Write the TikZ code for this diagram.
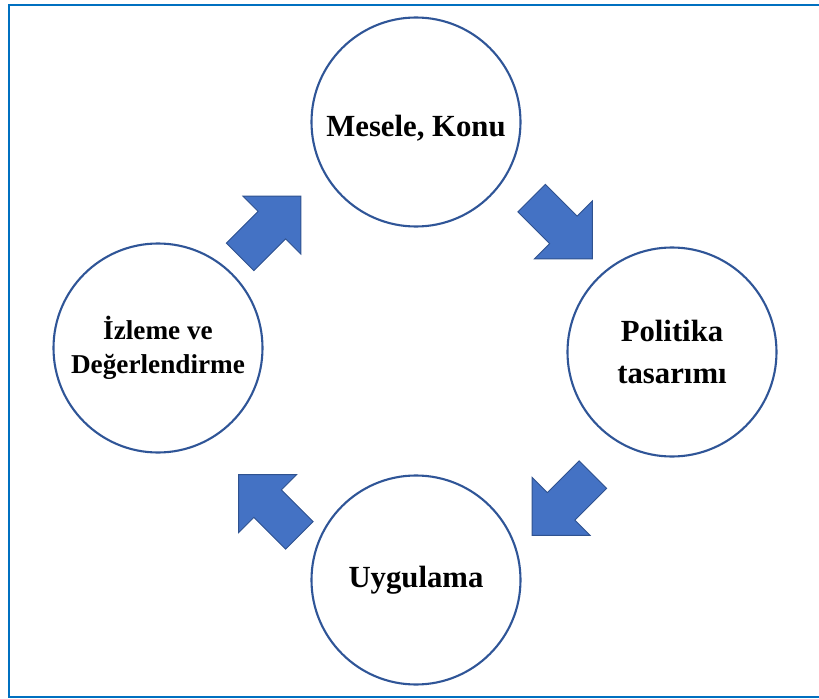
\documentclass[tikz,border=0pt]{standalone}
\usepackage{fontspec}
\setmainfont{Liberation Serif}
\definecolor{cerceve}{RGB}{0,112,192}
\definecolor{halka}{RGB}{47,85,151}
\definecolor{okdolgu}{RGB}{68,114,196}
\definecolor{okkenar}{RGB}{47,82,143}
\begin{document}
\begin{tikzpicture}[x=0.02cm, y=0.02cm]
\tikzset{ inner sep=0pt, outer sep=0pt,
  daire/.style={circle, draw=halka, line width=1.2pt, minimum size=209*0.02cm,
    align=center, font=\fontsize{17.5}{23.5}\selectfont\bfseries},
  blok/.pic={\draw [fill=okdolgu, draw=okkenar, line width=0.5pt]
    (-43,-19.5) -- (2,-19.5) -- (2,-41) -- (43,0) -- (2,41) -- (2,19.5) -- (-43,19.5) -- cycle;},
}
\clip (0,0) rectangle (819,698);
%\draw [lightgray, dashed](0,0) grid[step=50] (819,698);

% frame, right side cut off
\draw [cerceve, line width=1.5pt] (9,1) rectangle (840,693);

\node [daire] (M) at (416,576) {\smash{\raisebox{-8.5pt}{Mesele, Konu}}};
\node [daire] (P) at (672,346) {Politika\\tasarımı};
\node [daire] (U) at (416,118) {Uygulama};
\node [daire, font=\fontsize{15.5}{19}\selectfont\bfseries] (I) at (158,350) {İzleme ve\\Değerlendirme};

% block arrows between the circles
\pic [rotate=45]   at (270.5,471.5) {blok};
\pic [rotate=-45]  at (562,469.5)   {blok};
\pic [rotate=-135] at (562.5,193)   {blok};
\pic [rotate=135]  at (269,193)     {blok};

\end{tikzpicture}
\end{document}
